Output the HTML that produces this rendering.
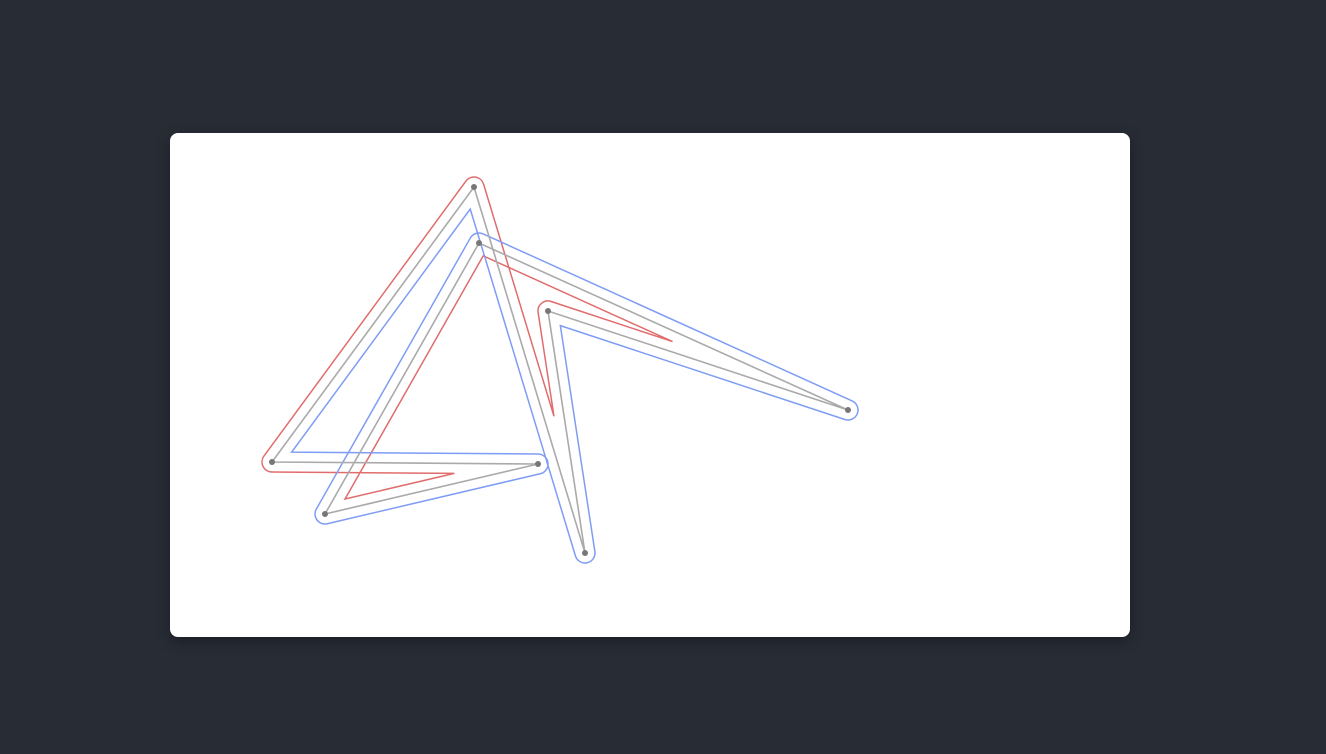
<!DOCTYPE html>
<html><head><meta charset="utf-8"><style>
html,body{margin:0;padding:0;background:#282c35;width:1326px;height:754px;overflow:hidden;font-family:"Liberation Sans",sans-serif}
#card{position:absolute;left:170px;top:133px;width:960px;height:504px;background:#fff;border-radius:8px;box-shadow:0 4px 14px rgba(0,0,0,.35)}
svg{position:absolute;left:0;top:0}
</style></head><body>
<div id="card"></div>
<svg id="s" width="1326" height="754"></svg>
<script>
const xs=[474,272,538,325,479,848,548,585];
const ys=[187,462,464,514,243,410,311,553];
const offsetDist=10;
const NS='http://www.w3.org/2000/svg';
const svg=document.getElementById('s');
const pts=xs.map((x,i)=>[x,ys[i]]);
function offsetPath(d){
  const n=pts.length;
  const segs=[];
  for(let i=0;i<n;i++){
    const [x1,y1]=pts[i],[x2,y2]=pts[(i+1)%n];const L=Math.hypot(x2-x1,y2-y1);
    const nx=-(y2-y1)/L*d,ny=(x2-x1)/L*d;
    segs.push([[x1+nx,y1+ny],[x2+nx,y2+ny],[x2-x1,y2-y1]]);
  }
  let p='';
  for(let i=0;i<n;i++){
    const a=segs[i],b=segs[(i+1)%n];
    const cross=a[2][0]*b[2][1]-a[2][1]*b[2][0];
    const convex=(cross*d)<0;
    let start,piece;
    if(convex){
      start=a[1];
      piece=' A'+Math.abs(d)+','+Math.abs(d)+' 0 0 '+(d>0?0:1)+' '+b[0].join(',');
    }else{
      const [px,py]=a[0],[rx,ry]=a[2],[qx,qy]=b[0],[sx,sy]=b[2];
      const den=rx*sy-ry*sx;
      const t=((qx-px)*sy-(qy-py)*sx)/den;
      start=[px+t*rx,py+t*ry];piece='';
    }
    p+=(i===0?'M':' L')+start.join(',')+piece;
  }
  return p+' Z';
}
function mk(tag,attrs){const e=document.createElementNS(NS,tag);for(const k in attrs)e.setAttribute(k,attrs[k]);svg.appendChild(e);return e;}
const red=mk('path',{d:offsetPath(offsetDist),fill:'none',stroke:'#e06c6c','stroke-width':1.5});


const blue=mk('path',{d:offsetPath(-offsetDist),fill:'none',stroke:'#7f9cf5','stroke-width':1.5});


const base=mk('polygon',{points:pts.map(p=>p.join(',')).join(' '),fill:'none',stroke:'#aaa','stroke-width':1.6});


pts.forEach(p=>{
  const c=mk('circle',{cx:p[0],cy:p[1],r:3,fill:'#777'});
  
  
});
</script>
</body></html>
